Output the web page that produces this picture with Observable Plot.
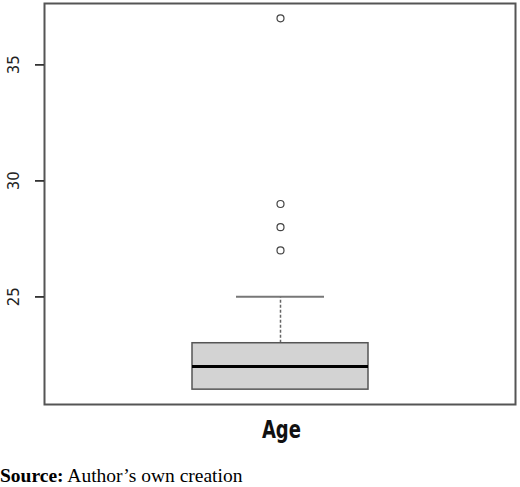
<!DOCTYPE html>
<html><head><meta charset="utf-8">
<script src="https://cdn.jsdelivr.net/npm/d3@7"></script>
<script src="https://cdn.jsdelivr.net/npm/@observablehq/plot@0.6"></script>
<style>
body{margin:0;background:#fff;width:520px;}
#chart svg{display:block;}
#xl{position:absolute;top:417px;left:0;width:562px;text-align:center;}
#xl span{display:inline-block;font:bold 25px/25px "DejaVu Sans Condensed",sans-serif;color:#111;transform:scaleX(0.8);}
#cap{position:absolute;top:465px;left:0;font:19.5px/22px "Liberation Serif",serif;color:#000;white-space:nowrap;}
</style></head>
<body>
<div id="chart"></div>
<div id="xl"><span>Age</span></div>
<div id="cap"><b>Source:</b> Author’s own creation</div>
<script>
const categories = ["Age"];
const q1 = [21];
const median = [22];
const q3 = [23];
const whiskerLow = [21];
const whiskerHigh = [25];
const outliers = [37, 29, 28, 27];
const yTicks = [25, 30, 35];

const stats = categories.map((c, i) => ({cat: c, q1: q1[i], med: median[i], q3: q3[i], lo: whiskerLow[i], hi: whiskerHigh[i]}));
const pts = outliers.map(v => ({cat: categories[0], v}));

const W = 520, ML = 44, MR = 5, TICK = 9;

const chart = Plot.plot({
  width: W, height: 409,
  marginTop: 3, marginBottom: 5, marginLeft: ML, marginRight: MR,
  x: {type: "band", domain: categories, paddingInner: 0.4556, paddingOuter: 0.4556, axis: null},
  y: {domain: [20.36, 37.64], ticks: yTicks},
  style: {fontFamily: "DejaVu Sans, sans-serif", fontSize: "14px", color: "#222"},
  marks: [
    Plot.frame({stroke: "#555", strokeWidth: 2}),
    Plot.ruleY(yTicks, {y: d => d, dx: -TICK, insetRight: W - ML - MR - TICK, stroke: "#333", strokeWidth: 1.5}),
    Plot.axisY({ticks: yTicks, tickSize: TICK, tickFormat: () => "", label: null, stroke: "#333", strokeWidth: 1.5}),
    Plot.axisY({ticks: yTicks, tickSize: 0, tickRotate: -90, tickPadding: 26, label: null, fontSize: 15}),
    Plot.ruleX(stats, {x: "cat", y1: "q3", y2: "hi", stroke: "#666", strokeDasharray: "3,2", strokeWidth: 1.5}),
    Plot.tickY(stats, {x: "cat", y: "hi", stroke: "#777", strokeWidth: 2, insetLeft: 44, insetRight: 44}),
    Plot.barY(stats, {x: "cat", y1: "q1", y2: "q3", fill: "#d3d3d3", stroke: "#555", strokeWidth: 1.5}),
    Plot.tickY(stats, {x: "cat", y: "med", stroke: "#000", strokeWidth: 3}),
    Plot.dot(pts, {x: "cat", y: "v", r: 3.5, stroke: "#444", strokeWidth: 1.2, fill: "none"})
  ]
});
document.getElementById("chart").append(chart);
</script>
</body></html>
